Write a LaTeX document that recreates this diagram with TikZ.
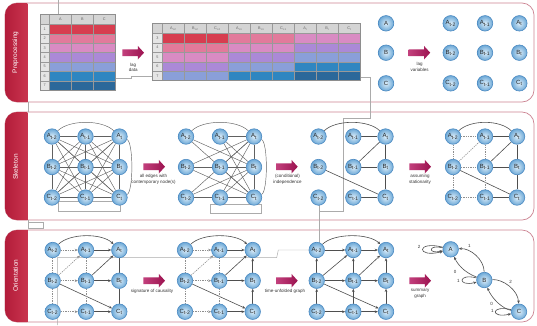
\documentclass[tikz,border=0pt]{standalone}
\usepackage{fontspec}
\setmainfont{Liberation Sans}
\usetikzlibrary{arrows.meta}
\pgfdeclarelayer{bg}
\pgfsetlayers{bg,main}
\definecolor{c1}{HTML}{D73D4F}
\definecolor{c2}{HTML}{E27A9B}
\definecolor{c3}{HTML}{D98BC3}
\definecolor{c4}{HTML}{AB89D7}
\definecolor{c5}{HTML}{8A9FD9}
\definecolor{c6}{HTML}{2F86C1}
\definecolor{c7}{HTML}{2B689A}
\definecolor{hdr}{HTML}{D4D4D4}
\definecolor{tabline}{HTML}{8E8E8E}
\definecolor{nodein}{HTML}{DDEEFA}
\definecolor{nodeout}{HTML}{6CA8D6}
\definecolor{nodeb}{HTML}{4C8AC2}
\definecolor{edgec}{HTML}{4F4F4F}
\definecolor{dashc}{HTML}{8F8F8F}
\definecolor{artc}{HTML}{ABABAB}
\definecolor{panelc}{HTML}{CC8492}
\definecolor{tabd}{HTML}{B31C3A}
\definecolor{tabl}{HTML}{DA485E}
\definecolor{arrL}{HTML}{C2407C}
\definecolor{arrM}{HTML}{F6DCE8}
\definecolor{arrR}{HTML}{9C1350}
\tikzset{
  vn/.style={circle, minimum size=15.5pt, inner sep=0pt, draw=nodeb, line width=0.6pt,
    inner color=nodein, outer color=nodeout, font=\fontsize{6}{6}\selectfont, text=black!85},
  ed/.style={draw=edgec, line width=0.6pt},
  ed1/.style={draw=edgec!90, line width=0.45pt},
  dl/.style={draw=dashc, line width=0.6pt, dash pattern=on 1.3pt off 1pt},
  ar/.style={-{Stealth[length=3.2pt,width=2.6pt]}},
  lbl/.style={font=\fontsize{4.5}{5.8}\selectfont, align=center, text=black!80, inner sep=0pt},
  art/.style={draw=artc, line width=0.45pt},
  thead/.style={font=\fontsize{3.8}{4}\selectfont, text=black!60, inner sep=0pt},
  tgrid/.style={draw=black!40, line width=0.35pt},
  tabtxt/.style={rotate=90, text=white, font=\fontsize{6.5}{7}\selectfont, inner sep=0pt},
}
\newcommand\mygrid[7]{%
  \node[vn,alias=#1-1] (#1A2) at (#2,#5) {A\textsubscript{t-2}};
  \node[vn,alias=#1-2] (#1A1) at (#3,#5) {A\textsubscript{t-1}};
  \node[vn,alias=#1-3] (#1A0) at (#4,#5) {A\textsubscript{t}};
  \node[vn,alias=#1-4] (#1B2) at (#2,#6) {B\textsubscript{t-2}};
  \node[vn,alias=#1-5] (#1B1) at (#3,#6) {B\textsubscript{t-1}};
  \node[vn,alias=#1-6] (#1B0) at (#4,#6) {B\textsubscript{t}};
  \node[vn,alias=#1-7] (#1C2) at (#2,#7) {C\textsubscript{t-2}};
  \node[vn,alias=#1-8] (#1C1) at (#3,#7) {C\textsubscript{t-1}};
  \node[vn,alias=#1-9] (#1C0) at (#4,#7) {C\textsubscript{t}};
}
\newcommand\bigarrow[2]{%
  \shade[left color=arrL, middle color=arrM, right color=arrR]
    (#1,{#2-3.4}) -- ({#1+15.5},{#2-3.4}) -- ({#1+15.5},{#2-6.8}) -- ({#1+21.7},#2)
    -- ({#1+15.5},{#2+6.8}) -- ({#1+15.5},{#2+3.4}) -- (#1,{#2+3.4}) -- cycle;}
\newcommand\edg[3][]{\draw[ed,#1] (#2) -- (#3);}
\newcommand\dedg[3][]{\draw[dl,#1] (#2) -- (#3);}
\begin{document}
\begin{tikzpicture}[x=1pt,y=-1pt]
\useasboundingbox (0,0) rectangle (537,325);
% ---------- panels ----------
\begin{pgfonlayer}{bg}
\fill[white] (0,0) rectangle (537,325);
\foreach \ya/\yb in {3/102,112/220,230/322}{
  \draw[draw=panelc, line width=0.7pt, fill=white, rounded corners=12pt] (5,\ya) rectangle (534,\yb);
  \begin{scope}
    \clip (0,{\ya-1}) rectangle (27.3,{\yb+1});
    \shade[left color=tabd, right color=tabl, rounded corners=12pt] (5,\ya) rectangle (45,\yb);
  \end{scope}
}
% stray guide lines
\draw[art] (58,0) -- (58,14.3);
\draw[art] (115,78.3) -- (131.7,78.3) -- (131.7,76.7) -- (152.7,76.7);
\draw[art] (360.3,77.3) -- (370,77.3) -- (370,118) -- (342.8,118) -- (342.8,211.7) -- (319.3,211.7);
\draw[art] (319.3,198) -- (319.3,250);
\draw[art] (28.3,102) -- (28.3,112);
\draw[art] (28.3,220) -- (28.3,228.5) -- (43.3,228.5) -- (43.3,222) -- (28.3,222);
\draw[art] (57.3,325) -- (57.3,257.7) -- (276.7,257.7) -- (278.3,250) -- (316.7,250);
\draw[art] (58.3,201.7) rectangle (120.7,211.7);
\draw[art] (210,204) rectangle (261.7,213.3);
\end{pgfonlayer}
\node[tabtxt] (tabP) at (15.5,52.5) {Preprocessing};
\node[tabtxt] (tabS) at (15.5,167) {Skeleton};
\node[tabtxt] (tabO) at (15.5,275.5) {Orientation};
% ---------- table 1 ----------
\fill[hdr] (40,14.3) rectangle (115,24.3);
\foreach \L [count=\k from 0] in {A,B,C}{
  \node[thead] (t1h\L) at ({60.3+22*\k},19.3) {\L};
}
\foreach \r/\cc in {1/c1,2/c2,3/c3,4/c4,5/c5,6/c6,7/c7}{
  \fill[hdr!60] (40,{24.3+9.4*(\r-1)}) rectangle (49.3,{24.3+9.4*\r});
  \node[thead] (t1r\r) at (44.65,{24.3+9.4*(\r-0.5)}) {\r};
  \fill[\cc] (49.3,{24.3+9.4*(\r-1)}) rectangle (115,{24.3+9.4*\r});
}
\foreach \xx in {49.3,71.3,93.3}{\draw[tgrid] (\xx,14.3) -- (\xx,90.1);}
\foreach \r in {0,...,6}{\draw[tgrid] (40,{24.3+9.4*\r}) -- (115,{24.3+9.4*\r});}
\draw[tabline, line width=1pt] (40,14.3) rectangle (115,90.1);
% ---------- table 2 ----------
\fill[hdr] (152.7,23.3) rectangle (360.3,33.3);
\foreach \r in {3,...,7}{
  \fill[hdr!60] (152.7,{33.3+9.5*(\r-3)}) rectangle (162.3,{33.3+9.5*(\r-2)});
  \node[thead] (t2r\r) at (157.5,{33.3+9.5*(\r-2.5)}) {\r};
}
\foreach \g/\tl in {0/t-2,1/t-1,2/t}{
  \foreach \L [count=\m from 0] in {A,B,C}{
    \pgfmathsetmacro\xx{162.3+22*(3*\g+\m)}
    \node[thead] (t2h\g\L) at ({\xx+11},28.3) {\L\textsubscript{\tl}};
    \foreach \r in {3,...,7}{
      \pgfmathtruncatemacro\ci{\r-2+\g}
      \fill[c\ci] (\xx,{33.3+9.5*(\r-3)}) rectangle ({\xx+22},{33.3+9.5*(\r-2)});
    }
  }
}
\foreach \k in {0,...,9}{\draw[tgrid] ({162.3+22*\k},23.3) -- ({162.3+22*\k},80.8);}
\foreach \r in {0,...,4}{\draw[tgrid] (152.7,{33.3+9.5*\r}) -- (360.3,{33.3+9.5*\r});}
\draw[tabline, line width=1pt] (152.7,23.3) rectangle (360.3,80.8);
% ---------- big arrows and their labels ----------
\bigarrow{122.3}{52.7}
\node[lbl] (l1) at (133.2,67.3) {lag\\data};
\bigarrow{408.5}{52.7}
\node[lbl] (l2) at (419.5,67.2) {lag\\variables};
\bigarrow{143.3}{166.7}
\node[lbl] (l3) at (153.5,179) {all edges with\\contemporary node(s)};
\bigarrow{276}{166.7}
\node[lbl] (l4) at (287.5,179.2) {(conditional)\\independence};
\bigarrow{409.3}{166.7}
\node[lbl] (l5) at (420,179.3) {assuming\\stationarity};
\bigarrow{143.3}{280.7}
\node[lbl] (l6) at (152,291) {signature of causality};
\bigarrow{276}{280.7}
\node[lbl] (l7) at (285,291) {time-unfolded graph};
\bigarrow{409.3}{280.7}
\node[lbl] (l8) at (420,293.8) {summary\\graph};
% ---------- nodes ----------
\node[vn] (pA) at (386,23.3) {A};
\node[vn] (pB) at (386,52.7) {B};
\node[vn] (pC) at (386,83.3) {C};
\mygrid{p1}{450.7}{485}{519.3}{23.3}{52.7}{83.3}
\mygrid{g1}{52}{85.5}{119.5}{136.5}{167}{197.5}
\mygrid{g2}{186}{220}{254}{136.5}{167}{197.5}
\mygrid{g3}{318.5}{353.3}{385.5}{136.5}{167}{197.5}
\mygrid{g4}{453}{485}{517}{136.5}{167}{197.5}
\mygrid{g5}{52.7}{86}{119.3}{250}{280.7}{311.7}
\mygrid{g6}{185}{219.3}{252.7}{250}{280.7}{311.7}
\mygrid{g7}{316.7}{353.3}{386}{250}{280.7}{311.7}
\node[vn] (sA) at (450.7,249.3) {A};
\node[vn] (sB) at (484.3,280) {B};
\node[vn] (sC) at (519,311.7) {C};
% ---------- edges ----------
\begin{pgfonlayer}{bg}
% graph 1: complete graph
\foreach \i in {1,...,8}{%
  \pgfmathtruncatemacro\nx{\i+1}%
  \foreach \j in {\nx,...,9}{%
    \pgfmathtruncatemacro\sk{((\i==1)&&(\j==3))||((\i==3)&&(\j==9))}%
    \ifnum\sk=0 \draw[ed1] (g1-\i) -- (g1-\j);\fi
  }}
\draw[ed1] (g1A2) .. controls (69,119.5) and (102.5,119.5) .. (g1A0);
\draw[ed1] (g1A0) .. controls (133.5,142) and (133.5,192) .. (g1C0);
% graph 2: edges with contemporary nodes
\foreach \sa/\tb in {A2/B0,A2/C0,A1/A0,A1/B0,A1/C0,B2/A0,B2/B0,B2/C0,B1/A0,B1/B0,B1/C0,C2/A0,C2/B0,C2/C0,C1/A0,C1/B0,C1/C0,A0/B0,B0/C0}{%
  \draw[ed1] (g2\sa) -- (g2\tb);}
\draw[ed1] (g2A2) .. controls (203,119.5) and (237,119.5) .. (g2A0);
\draw[ed1] (g2A0) .. controls (268,142) and (268,192) .. (g2C0);
% graph 3: skeleton
\draw[ed] (g3A2) .. controls (335.5,119.5) and (368.5,119.5) .. (g3A0);
\edg{g3A1}{g3A0} \edg{g3B1}{g3A0} \edg{g3B1}{g3B0} \edg{g3A0}{g3B0}
\edg{g3B0}{g3C0} \edg{g3C1}{g3C0} \edg{g3B2}{g3C0}
% graph 4: stationarity
\draw[ed] (g4A2) .. controls (470,119.5) and (500,119.5) .. (g4A0);
\edg{g4A1}{g4A0} \edg{g4B1}{g4A0} \edg{g4B1}{g4B0} \edg{g4A0}{g4B0}
\edg{g4B0}{g4C0} \edg{g4C1}{g4C0} \edg{g4B2}{g4C0}
\dedg{g4A2}{g4A1} \dedg{g4B2}{g4A1} \dedg{g4A2}{g4B2} \dedg{g4B2}{g4C2}
\dedg{g4A1}{g4B1} \dedg{g4B1}{g4C1} \dedg{g4B2}{g4B1} \dedg{g4C2}{g4C1}
% graph 5: orientation from time
\draw[ed,ar] (g5A2) .. controls (69.7,233) and (102.3,233) .. (g5A0);
\edg[ar]{g5A1}{g5A0} \edg[ar]{g5B1}{g5A0} \edg[ar]{g5B1}{g5B0} \edg[ar]{g5C1}{g5C0}
\edg[ar]{g5B2}{g5C0} \edg{g5A0}{g5B0} \edg{g5B0}{g5C0}
\dedg[ar]{g5A2}{g5A1} \dedg[ar]{g5B2}{g5A1} \dedg[ar]{g5B2}{g5B1} \dedg[ar]{g5C2}{g5C1}
\dedg{g5A2}{g5B2} \dedg{g5B2}{g5C2} \dedg{g5A1}{g5B1} \dedg{g5B1}{g5C1}
% graph 6: signature of causality
\draw[ed,ar] (g6A2) .. controls (202,233) and (235.7,233) .. (g6A0);
\edg[ar]{g6A1}{g6A0} \edg[ar]{g6B1}{g6A0} \edg[ar]{g6B1}{g6B0} \edg[ar]{g6C1}{g6C0}
\edg[ar]{g6B2}{g6C0} \edg[ar]{g6B0}{g6A0} \edg[ar]{g6C0}{g6B0}
\dedg[ar]{g6A2}{g6A1} \dedg[ar]{g6B2}{g6A1} \dedg[ar]{g6B2}{g6B1} \dedg[ar]{g6C2}{g6C1}
\dedg{g6A2}{g6B2} \dedg{g6B2}{g6C2} \dedg{g6A1}{g6B1} \dedg{g6B1}{g6C1}
% graph 7: time-unfolded graph
\draw[ed,ar] (g7A2) .. controls (333.7,233) and (369,233) .. (g7A0);
\foreach \sa/\tb in {A2/A1,A1/A0,B2/A1,B1/A0,B2/B1,B1/B0,C2/C1,C1/C0,B2/C0,B2/A2,C2/B2,B1/A1,C1/B1,B0/A0,C0/B0}{%
  \draw[ed,ar] (g7\sa) -- (g7\tb);}
% summary graph
\draw[ed,ar] (sA.165) .. controls +(-27,-7) and +(-27,7) .. (sA.195);
\draw[ed,ar] (sA.170) .. controls +(-15,-4) and +(-15,4) .. (sA.190);
\draw[ed,ar] (sB.165) .. controls +(-19,-5) and +(-19,5) .. (sB.195);
\draw[ed,ar] (sC.165) .. controls +(-21,-5) and +(-21,5) .. (sC.195);
\draw[ed,ar] (sB) .. controls (484,259) and (470,248) .. (sA);
\draw[ed,ar] (sB) .. controls (463,272) and (457,263) .. (sA);
\draw[ed,ar] (sB) .. controls (503,279) and (518,290) .. (sC);
\draw[ed,ar] (sC) .. controls (503,309) and (492,299) .. (sB);
\end{pgfonlayer}
\node[lbl] (sl1) at (419,247.3) {2};
\node[lbl] (sl2) at (469.3,246) {1};
\node[lbl] (sl3) at (455,272.3) {0};
\node[lbl] (sl4) at (458.3,280.7) {1};
\node[lbl] (sl5) at (510.7,281.7) {2};
\node[lbl] (sl6) at (491.7,304.3) {0};
\node[lbl] (sl7) at (492.3,311) {1};
\end{tikzpicture}
\end{document}
